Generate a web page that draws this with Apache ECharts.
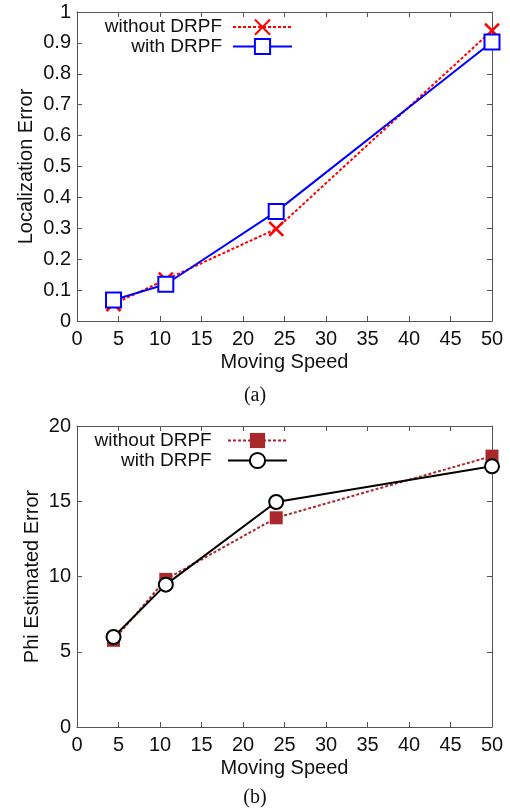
<!DOCTYPE html>
<html><head><meta charset="utf-8">
<script src="https://cdn.jsdelivr.net/npm/echarts@6/dist/echarts.min.js"></script>
<style>html,body{margin:0;padding:0;background:#fff}#c{width:510px;height:810px}</style>
</head><body><div id="c"></div>
<script>
const speeds = [4.4, 10.7, 24, 50];
const locWithout = [0.055, 0.134, 0.298, 0.94];
const locWith = [0.068, 0.119, 0.354, 0.903];
const phiWithout = [5.76, 9.81, 13.9, 18.0];
const phiWith = [5.98, 9.46, 14.95, 17.32];
const xTicks = [0, 5, 10, 15, 20, 25, 30, 35, 40, 45, 50];
const seriesNames = ['without DRPF', 'with DRPF'];
const yTitles = ['Localization Error', 'Phi Estimated Error'];
const xTitle = 'Moving Speed';
const captions = ['(a)', '(b)'];

const FONT = 'Liberation Sans, Arial, sans-serif';
const AX = '#555';
const pair = (xs, ys) => xs.map((x, i) => [x, ys[i]]);
const XPATH = 'path://M0,0L10,10M10,0L0,10';

function xAxes(grid) {
  return [
    { type: 'value', gridIndex: grid, min: 0, max: 50, interval: 5,
      name: xTitle, nameLocation: 'middle', nameGap: 31, nameMoveOverlap: false,
      nameTextStyle: { fontFamily: FONT, fontSize: 20, color: '#111' },
      axisLine: { show: true, onZero: false, lineStyle: { color: AX, width: 1 } },
      axisTick: { show: true, inside: true, length: 5, lineStyle: { color: AX } },
      axisLabel: { fontFamily: FONT, fontSize: 20, color: '#111', margin: 8 },
      splitLine: { show: false } },
    { type: 'value', gridIndex: grid, position: 'top', min: 0, max: 50, interval: 5,
      axisLine: { show: true, onZero: false, lineStyle: { color: AX, width: 1 } },
      axisTick: { show: true, inside: true, length: 5, lineStyle: { color: AX } },
      axisLabel: { show: false }, splitLine: { show: false } }
  ];
}
function yAxes(grid, max, interval, title, gap, fmt) {
  return [
    { type: 'value', gridIndex: grid, min: 0, max: max, interval: interval,
      name: title, nameLocation: 'middle', nameGap: gap, nameRotate: 90, nameMoveOverlap: false,
      nameTextStyle: { fontFamily: FONT, fontSize: 20, color: '#111' },
      axisLine: { show: true, onZero: false, lineStyle: { color: AX, width: 1 } },
      axisTick: { show: true, inside: true, length: 5, lineStyle: { color: AX } },
      axisLabel: { fontFamily: FONT, fontSize: 20, color: '#111', margin: 6, formatter: fmt },
      splitLine: { show: false } },
    { type: 'value', gridIndex: grid, position: 'right', min: 0, max: max, interval: interval,
      axisLine: { show: true, onZero: false, lineStyle: { color: AX, width: 1 } },
      axisTick: { show: true, inside: true, length: 5, lineStyle: { color: AX } },
      axisLabel: { show: false }, splitLine: { show: false } }
  ];
}
function legend(name, top, right) {
  return { data: [name], top: top, right: right, align: 'right', orient: 'vertical',
    padding: 0, itemWidth: 59, itemHeight: 19, itemGap: 0,
    textStyle: { fontFamily: FONT, fontSize: 19, color: '#111', padding: [0, 6, 0, 0] } };
}

const option = {
  animation: false,
  backgroundColor: '#fff',
  grid: [
    { left: 77, right: 18, top: 12, height: 309 },
    { left: 77, right: 18, top: 426, height: 301 }
  ],
  xAxis: [...xAxes(0), ...xAxes(1)],
  yAxis: [...yAxes(0, 1, 0.1, yTitles[0], 41, v => (Math.round(v * 10) / 10).toString()),
          ...yAxes(1, 20, 5, yTitles[1], 35, v => v.toString())],
  legend: [
    legend(seriesNames[0], 17, 217),
    legend(seriesNames[1], 37, 217),
    legend(seriesNames[0] + ' ', 431, 222),
    legend(seriesNames[1] + ' ', 451, 222)
  ],
  title: [
    { text: captions[0], left: 'center', top: 381, textStyle: { fontFamily: 'Liberation Serif, Times New Roman, serif', fontSize: 20, fontWeight: 'normal', color: '#111' } },
    { text: captions[1], left: 'center', top: 783, textStyle: { fontFamily: 'Liberation Serif, Times New Roman, serif', fontSize: 20, fontWeight: 'normal', color: '#111' } }
  ],
  series: [
    { name: seriesNames[0], type: 'line', xAxisIndex: 0, yAxisIndex: 0, data: pair(speeds, locWithout),
      symbol: XPATH, symbolSize: 14, color: '#ff0000',
      lineStyle: { color: '#ff0000', width: 2, type: [3, 2] },
      itemStyle: { color: 'none', borderColor: '#ff0000', borderWidth: 2.5 }, z: 2 },
    { name: seriesNames[1], type: 'line', xAxisIndex: 0, yAxisIndex: 0, data: pair(speeds, locWith),
      symbol: 'emptyRect', symbolSize: 15, color: '#0000ff',
      lineStyle: { color: '#0000ff', width: 2 },
      itemStyle: { color: '#0000ff', borderColor: '#0000ff', borderWidth: 2 }, z: 3 },
    { name: seriesNames[0] + ' ', type: 'line', xAxisIndex: 2, yAxisIndex: 2, data: pair(speeds, phiWithout),
      symbol: 'rect', symbolSize: 13, color: '#a8282c',
      lineStyle: { color: '#a8282c', width: 2, type: [3, 2] },
      itemStyle: { color: '#a8282c' }, z: 2 },
    { name: seriesNames[1] + ' ', type: 'line', xAxisIndex: 2, yAxisIndex: 2, data: pair(speeds, phiWith),
      symbol: 'emptyCircle', symbolSize: 14, color: '#000',
      lineStyle: { color: '#000', width: 2 },
      itemStyle: { color: '#000', borderColor: '#000', borderWidth: 2 }, z: 3 }
  ]
};
const chart = echarts.init(document.getElementById('c'), null, { renderer: 'canvas' });
chart.setOption(option);
</script></body></html>
